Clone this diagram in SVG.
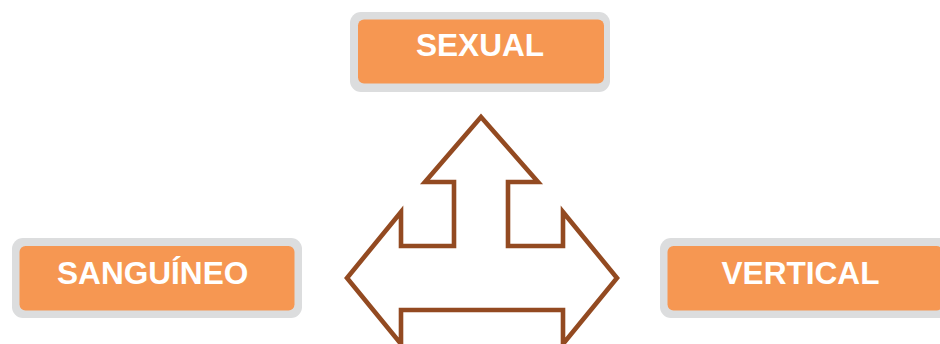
<svg xmlns="http://www.w3.org/2000/svg" width="940" height="344" viewBox="0 0 940 344">
<style>
.frame{fill:#DCDDDE}
.fill{fill:#F69752}
.lbl{font-family:"Liberation Sans",Arial,sans-serif;font-weight:bold;font-size:31.6px;fill:#FFFFFF}
.arrow{fill:none;stroke:#934A21;stroke-width:4.6;stroke-linejoin:miter}
</style>
<rect width="940" height="344" fill="#FFFFFF"/>
<g id="connectors">
<polygon class="arrow" points="481,117 538,182 508,182 508,246 563,246 563,212 617,278 563,344 563,310 401,310 401,344 347,278 401,212 401,246 454,246 454,182 425,182"/>
</g>
<g id="node-sexual">
<rect class="frame" x="350" y="12" width="260" height="80" rx="11"/>
<rect class="fill" x="358" y="19.5" width="246" height="64" rx="6"/>
<text class="lbl" x="480" y="56" text-anchor="middle">SEXUAL</text>
</g>
<g id="node-sanguineo">
<rect class="frame" x="12" y="238" width="290" height="80" rx="11"/>
<rect class="fill" x="19.5" y="246" width="275" height="64.5" rx="6"/>
<text class="lbl" x="57" y="283.5">SANGUÍNEO</text>
</g>
<g id="node-vertical">
<rect class="frame" x="660" y="238" width="290" height="80" rx="11"/>
<rect class="fill" x="667.5" y="246" width="275" height="64.5" rx="6"/>
<text class="lbl" x="721.5" y="284">VERTICAL</text>
</g>
</svg>
